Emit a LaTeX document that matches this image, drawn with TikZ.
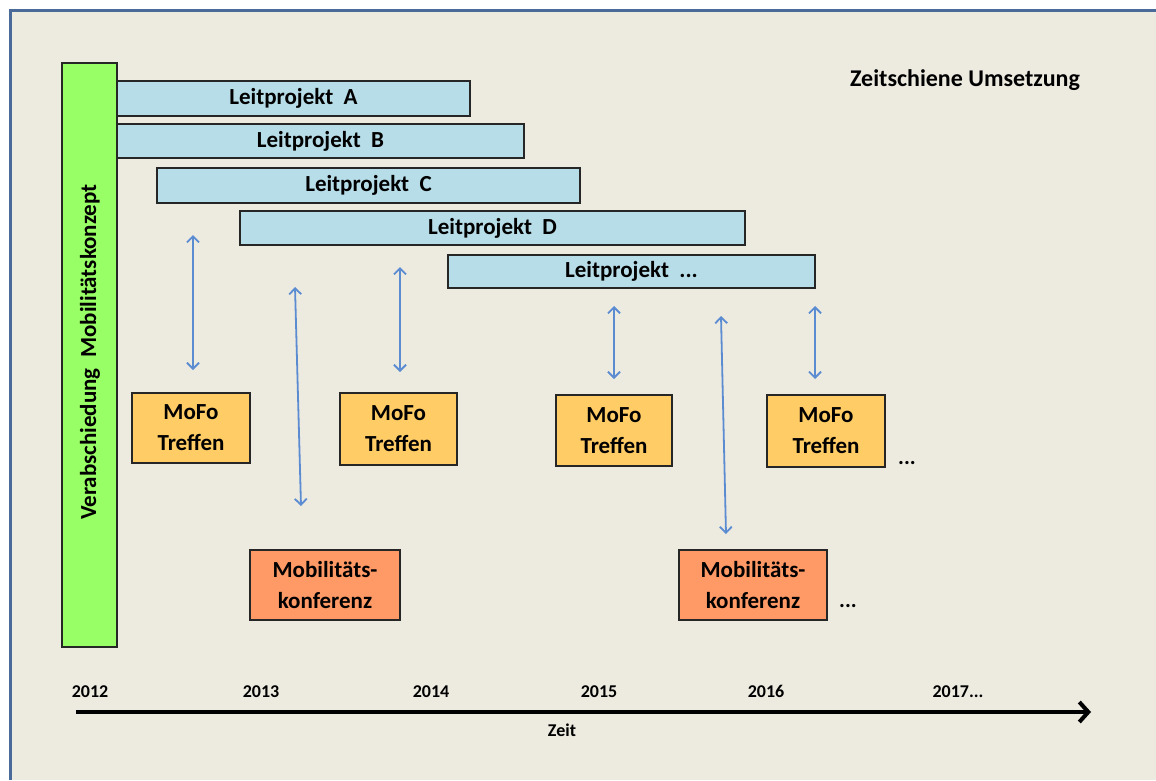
\documentclass[tikz,border=0pt]{standalone}
\usepackage{fontspec}
\setmainfont{Carlito}
\usetikzlibrary{arrows.meta}
\definecolor{bg}{HTML}{EDEAE0}
\definecolor{framec}{HTML}{4A6A9A}
\definecolor{greenbar}{HTML}{99FF66}
\definecolor{lpblue}{HTML}{B7DDE8}
\definecolor{mofo}{HTML}{FFCC66}
\definecolor{mobk}{HTML}{FF9966}
\definecolor{arrblue}{HTML}{5B8CD2}
\tikzset{
  box/.style={draw=black!85, line width=1.5pt, inner sep=0pt, font=\bfseries\fontsize{23}{31}\selectfont, align=center},
  lp/.style={box, fill=lpblue},
  mf/.style={box, fill=mofo, text width=110pt},
  mk/.style={box, fill=mobk, text width=145pt},
  barr/.style={draw=arrblue, line width=1.8pt, {Straight Barb[length=6pt,width=12pt]}-{Straight Barb[length=6pt,width=12pt]}},
  yr/.style={font=\bfseries\fontsize{18}{20}\selectfont, inner sep=0pt, anchor=base},
  dots/.style={font=\bfseries\fontsize{22}{24}\selectfont, inner sep=0pt}
}
\begin{document}
\begin{tikzpicture}[x=1pt,y=-1pt]
\useasboundingbox (0,0) rectangle (1156,780);
\fill[white] (0,0) rectangle (1156,780);
\fill[bg] (10,10) rectangle (1156,780);
\draw[framec, line width=3pt] (1156,10) -- (10,10) -- (10,780);
% green bar
\node[draw=black!85, line width=1.5pt, fill=greenbar, minimum width=55pt, minimum height=584pt, inner sep=0pt] (bar) at (89.5,355) {};
\node[rotate=90, font=\bfseries\fontsize{23}{26}\selectfont, inner sep=0pt] (bartext) at (90,352) {Verabschiedung\ \ Mobilitätskonzept};
% Leitprojekte
\node[lp, minimum width=353pt, minimum height=35pt] (A) at (293.5,98.5) {Leitprojekt\ \ A};
\node[lp, minimum width=407pt, minimum height=34pt] (B) at (320.5,141) {Leitprojekt\ \ B};
\node[lp, minimum width=423pt, minimum height=35pt] (C) at (368.5,185.5) {Leitprojekt\ \ C};
\node[lp, minimum width=505pt, minimum height=34pt] (D) at (492.5,228) {Leitprojekt\ \ D};
\node[lp, minimum width=367pt, minimum height=33pt] (E) at (631.5,271.5) {Leitprojekt\ \ ...};
% MoFo Treffen
\node[mf, minimum width=118pt, minimum height=70pt] (M1) at (191,428) {MoFo\\Treffen};
\node[mf, minimum width=117pt, minimum height=72pt] (M2) at (398.5,429) {MoFo\\Treffen};
\node[mf, minimum width=116pt, minimum height=71pt] (M3) at (614,430.5) {MoFo\\Treffen};
\node[mf, minimum width=118pt, minimum height=72pt] (M4) at (826,431) {MoFo\\Treffen};
\node[dots] (d1) at (907,463) {...};
% Mobilitaetskonferenz
\node[mk, minimum width=150pt, minimum height=70pt] (K1) at (325,585) {Mobilitäts-\\konferenz};
\node[mk, minimum width=148pt, minimum height=70pt] (K2) at (753,585) {Mobilitäts-\\konferenz};
\node[dots] (d2) at (848,606) {...};
% arrows
\coordinate (a1t) at (193,235); \coordinate (a1b) at (193,370);
\coordinate (a2t) at (295,287); \coordinate (a2b) at (301,506);
\coordinate (a3t) at (400,267); \coordinate (a3b) at (400,372);
\coordinate (a4t) at (614,306); \coordinate (a4b) at (614,379);
\coordinate (a5t) at (721,316); \coordinate (a5b) at (726,534);
\coordinate (a6t) at (815,306); \coordinate (a6b) at (815,379);
\draw[barr] (a1t) -- (a1b);
\draw[barr] (a2t) -- (a2b);
\draw[barr] (a3t) -- (a3b);
\draw[barr] (a4t) -- (a4b);
\draw[barr] (a5t) -- (a5b);
\draw[barr] (a6t) -- (a6b);
% title
\node[font=\bfseries\fontsize{24}{26}\selectfont, inner sep=0pt] (title) at (965,80) {Zeitschiene\ Umsetzung};
% timeline
\coordinate (t0) at (76,712); \coordinate (t1) at (1091,712);
\draw[black, line width=4.5pt, -{Straight Barb[length=9pt,width=20pt,line width=4pt]}] (t0) -- (t1);
\node[yr] (y12) at (90,697) {2012};
\node[yr] (y13) at (261,697) {2013};
\node[yr] (y14) at (431,697) {2014};
\node[yr] (y15) at (599,697) {2015};
\node[yr] (y16) at (766,697) {2016};
\node[yr] (y17) at (958,697) {2017...};
\node[yr] (zeit) at (562,736) {Zeit};
\end{tikzpicture}
\end{document}
